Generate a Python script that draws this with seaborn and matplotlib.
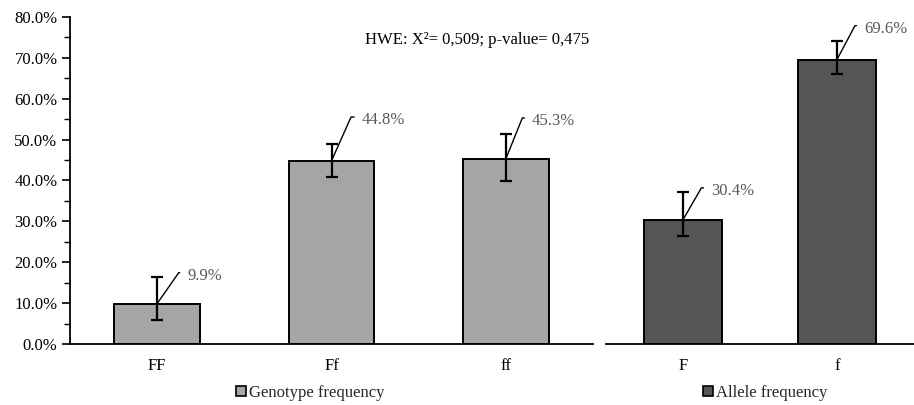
import matplotlib
matplotlib.use("Agg")
import matplotlib.pyplot as plt
import seaborn as sns
import numpy as np
import pandas as pd
from matplotlib.patches import Patch
from matplotlib.ticker import MultipleLocator, PercentFormatter

sns.set_theme(style="white")
plt.rcParams['font.family'] = ['Liberation Serif', 'DejaVu Serif']

# Data
genotypes = ["FF", "Ff", "ff"]
genotype_freq = [9.9, 44.8, 45.3]
genotype_err_low = [4.0, 4.0, 5.5]
genotype_err_high = [6.4, 4.2, 6.1]

alleles = ["F", "f"]
allele_freq = [30.4, 69.6]
allele_err_low = [4.0, 3.6]
allele_err_high = [6.7, 4.5]

hwe_text = "HWE: X²= 0,509; p-value= 0,475"

# label leader offsets (pixels) and angles
geno_offsets = [(30, 28, 55), (30, 41, 66), (26, 38, 68)]
allele_offsets = [(28, 29, 60), (27, 31, 62)]

FS = 12

fig = plt.figure(figsize=(9.14, 4.05), dpi=100)
axL = fig.add_axes([70/914, 61/405, (593-70)/914, (344-17)/405])
axR = fig.add_axes([606/914, 61/405, (914-606)/914, (344-17)/405], sharey=axL)
axR.patch.set_alpha(0)

light = "#A5A5A5"
dark = "#555555"
label_col = "#595959"

def draw(ax, cats, vals, lo, hi, color, offsets, width):
    df = pd.DataFrame({"cat": cats, "val": vals})
    sns.barplot(data=df, x="cat", y="val", color=color, edgecolor="black",
                linewidth=1.4, width=width, saturation=1, ax=ax, errorbar=None)
    xs = np.arange(len(cats))
    ax.errorbar(xs, vals, yerr=[lo, hi], fmt="none", ecolor="black",
                elinewidth=1.6, capsize=4, capthick=1.6, zorder=5)
    for x, v, (dx, dy, ang) in zip(xs, vals, offsets):
        ax.annotate(f"{v:.1f}%", xy=(x, v), xytext=(dx, dy),
                    textcoords="offset pixels", ha="left", va="center",
                    fontsize=FS, color=label_col,
                    arrowprops=dict(arrowstyle="-", color="black", lw=1,
                                    connectionstyle=f"angle,angleA=0,angleB={ang},rad=0",
                                    relpos=(0, 0.68), shrinkA=3, shrinkB=0),
                    zorder=6, annotation_clip=False)
    ax.set_xlabel("")
    ax.set_ylabel("")
    for s in ["top", "right"]:
        ax.spines[s].set_visible(False)
    ax.spines["bottom"].set_color("black")
    ax.spines["bottom"].set_linewidth(1.3)
    ax.tick_params(axis="x", length=0, labelsize=FS, pad=10, colors="black")

draw(axL, genotypes, genotype_freq, genotype_err_low, genotype_err_high, light, geno_offsets, 0.49)
draw(axR, alleles, allele_freq, allele_err_low, allele_err_high, dark, allele_offsets, 0.51)

axL.set_ylim(0, 80)
axL.yaxis.set_major_locator(MultipleLocator(10))
axL.yaxis.set_minor_locator(MultipleLocator(5))
axL.yaxis.set_major_formatter(PercentFormatter(decimals=1))
axL.spines["left"].set_color("black")
axL.spines["left"].set_linewidth(1.3)
axL.tick_params(axis="y", which="major", length=6, width=1.2, direction="out",
                left=True, labelsize=FS, colors="black", pad=3)
axL.tick_params(axis="y", which="minor", length=4, width=1.0, direction="out", left=True, colors="black")
axL.set_xlim(-0.5, 2.5)

axR.set_xlim(-0.5, 1.5)
axR.spines["left"].set_visible(False)
axR.tick_params(axis="y", which="both", left=False, labelleft=False)

fig.text(477/914, 1-40/405, hwe_text, ha="center", va="center",
         fontsize=FS, color="black")

fig.legend(handles=[Patch(facecolor=light, edgecolor="black", linewidth=1.2)],
           labels=["Genotype frequency"], loc="center", bbox_to_anchor=(310/914, 1-393/405),
           frameon=False, fontsize=FS, handlelength=0.6, handleheight=0.6,
           handletextpad=0.2, borderaxespad=0)
fig.legend(handles=[Patch(facecolor=dark, edgecolor="black", linewidth=1.2)],
           labels=["Allele frequency"], loc="center", bbox_to_anchor=(765/914, 1-393/405),
           frameon=False, fontsize=FS, handlelength=0.6, handleheight=0.6,
           handletextpad=0.2, borderaxespad=0)

fig.savefig("out.png", dpi=100, facecolor="white")
